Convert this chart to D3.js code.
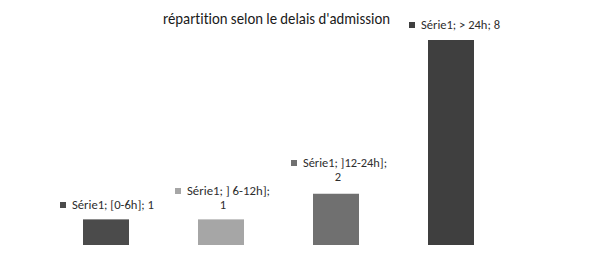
<!DOCTYPE html>
<meta charset="utf-8">
<body style="margin:0;background:white">
  <div id="content"></div>
</body>
<script src="https://cdn.jsdelivr.net/npm/d3@7/dist/d3.min.js"></script>
<script>
// chart values
var categories = ['[0-6h]', '] 6-12h]', ']12-24h]', '> 24h'];
var values = [1, 1, 2, 8];
var seriesName = 'Série1';
var title = "répartition selon le delais d'admission";

var chart = { width: 600, height: 253 };
var colors = ['#4b4b4b', '#a6a6a6', '#707070', '#3f3f3f'];
var font = "Carlito, Calibri, Lato, sans-serif";

// label layout: lines of text and where they sit
var labelLayout = [
  { lines: [seriesName + '; ' + categories[0] + '; ' + values[0]], x0: 60, y0: 209, w: 82 },
  { lines: [seriesName + '; ' + categories[1] + ';', '' + values[1]], x0: 175, y0: 195, w: 83 },
  { lines: [seriesName + '; ' + categories[2] + ';', '' + values[2]], x0: 291, y0: 167, w: 84 },
  { lines: [seriesName + '; ' + categories[3] + '; ' + values[3]], x0: 409, y0: 29, w: 79 }
];

var svg = d3.select('#content').append('svg')
  .attr('width', chart.width).attr('height', chart.height)
  .style('font-variant-ligatures', 'none');

var x = d3.scaleBand().domain(categories).range([48.5, 508.5])
  .paddingInner(0.6).paddingOuter(0.3);
var y = d3.scaleLinear().domain([0, 8]).range([245, 40]);

svg.selectAll('rect.bar').data(values).enter().append('rect')
  .attr('class', 'bar')
  .attr('x', function (d, i) { return x(categories[i]); })
  .attr('y', function (d) { return y(d); })
  .attr('width', x.bandwidth())
  .attr('height', function (d) { return y(0) - y(d); })
  .attr('fill', function (d, i) { return colors[i]; });

svg.append('text')
  .attr('x', 163).attr('y', 24)
  .attr('font-family', font).attr('font-size', 16)
  .attr('fill', '#1a1a1a')
  .attr('textLength', 227).attr('lengthAdjust', 'spacingAndGlyphs')
  .text(title);

var labels = svg.selectAll('g.lbl').data(labelLayout).enter().append('g')
  .attr('class', 'lbl');

labels.append('rect')
  .attr('x', function (d) { return d.x0; })
  .attr('y', function (d) { return d.y0 - 7; })
  .attr('width', 6).attr('height', 6)
  .attr('fill', function (d, i) { return colors[i]; });

labels.each(function (d, i) {
  var g = d3.select(this);
  g.append('text')
    .attr('x', d.x0 + 12).attr('y', d.y0)
    .attr('font-family', font).attr('font-size', 12.5)
    .attr('fill', '#2e2e2e')
    .attr('textLength', d.w).attr('lengthAdjust', 'spacingAndGlyphs')
    .text(d.lines[0]);
  if (d.lines.length > 1) {
    g.append('text')
      .attr('x', x(categories[i]) + x.bandwidth() / 2 + 2)
      .attr('y', d.y0 + 14)
      .attr('text-anchor', 'middle')
      .attr('font-family', font).attr('font-size', 12.5)
      .attr('fill', '#2e2e2e')
      .text(d.lines[1]);
  }
});
</script>
